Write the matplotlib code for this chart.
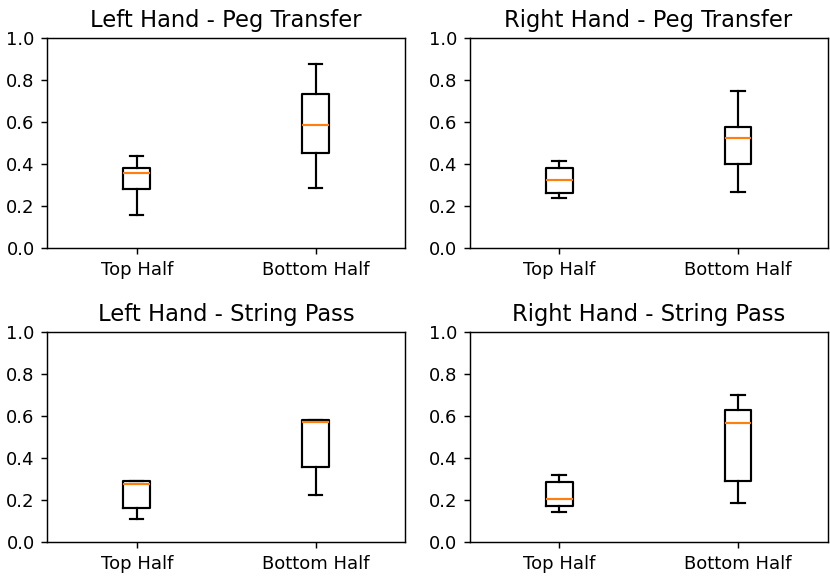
import matplotlib.pyplot as plt

titles = ["Left Hand - Peg Transfer", "Right Hand - Peg Transfer",
          "Left Hand - String Pass", "Right Hand - String Pass"]
groups = ["Top Half", "Bottom Half"]

# per panel: [Top Half, Bottom Half] -> (whislo, q1, med, q3, whishi)
lh_peg = [(0.157, 0.281, 0.360, 0.384, 0.440), (0.286, 0.451, 0.587, 0.735, 0.875)]
rh_peg = [(0.240, 0.262, 0.325, 0.383, 0.414), (0.268, 0.400, 0.525, 0.576, 0.748)]
lh_str = [(0.110, 0.165, 0.276, 0.292, 0.292), (0.225, 0.356, 0.571, 0.581, 0.584)]
rh_str = [(0.143, 0.174, 0.204, 0.287, 0.322), (0.186, 0.291, 0.567, 0.629, 0.699)]
panels = [lh_peg, rh_peg, lh_str, rh_str]

fig, axes = plt.subplots(2, 2, figsize=(830 / 130, 578 / 130), dpi=130)

for ax, title, data in zip(axes.flat, titles, panels):
    stats = []
    for name, (lo, q1, med, q3, hi) in zip(groups, data):
        stats.append({"label": name, "whislo": lo, "q1": q1, "med": med,
                      "q3": q3, "whishi": hi, "fliers": []})
    ax.bxp(stats, showfliers=False,
           boxprops={"linewidth": 1.2}, whiskerprops={"linewidth": 1.2},
           capprops={"linewidth": 1.2}, medianprops={"linewidth": 1.2})
    ax.set_ylim(0, 1)
    ax.set_title(title, fontsize=12.5)

plt.subplots_adjust(left=0.057, right=0.997, top=0.934, bottom=0.062,
                    wspace=0.18, hspace=0.4)
plt.savefig("out.png")
